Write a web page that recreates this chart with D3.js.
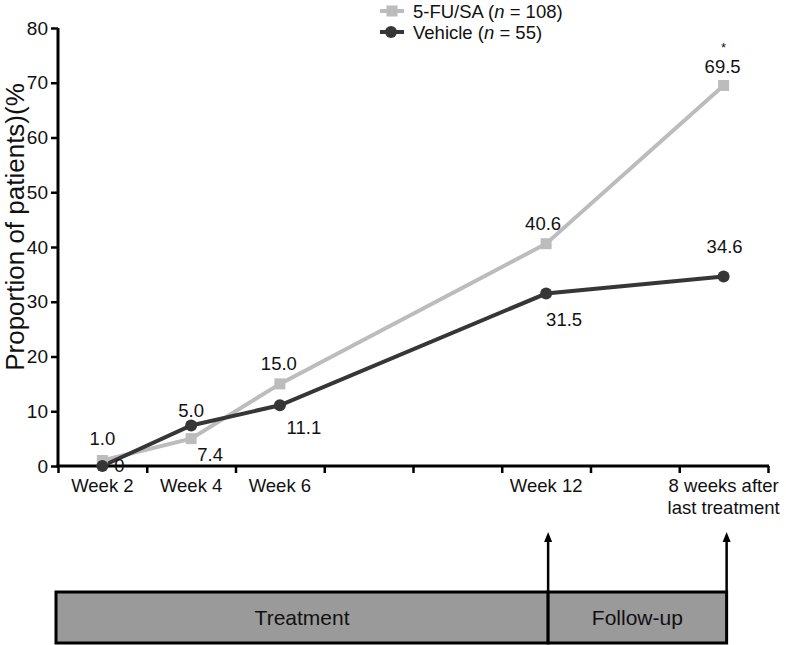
<!DOCTYPE html>
<html>
<head>
<meta charset="utf-8">
<script src="https://cdn.jsdelivr.net/npm/d3@7"></script>
<style>
  html, body { margin: 0; padding: 0; background: #fff; }
  svg { display: block; font-family: "Liberation Sans", Arial, sans-serif; }
</style>
</head>
<body>
<svg id="chart" width="786" height="645"></svg>
<script>
// ---------------- DATA ----------------
const xSlots = ["Week 2", "Week 4", "Week 6", "Week 8", "Week 10", "Week 12", "FU week 4", "FU week 8"];
const xTickLabels = [["Week 2"], ["Week 4"], ["Week 6"], [], [], ["Week 12"], [], ["8 weeks after", "last treatment"]];
const timepoints = ["Week 2", "Week 4", "Week 6", "Week 12", "FU week 8"];
const fuValues = [1.0, 5.0, 15.0, 40.6, 69.5];
const vehicleValues = [0, 7.4, 11.1, 31.5, 34.6];
const fuLabels = ["1.0", "5.0", "15.0", "40.6", "69.5"];
const vehicleLabels = ["0", "7.4", "11.1", "31.5", "34.6"];
const yTicks = [0, 10, 20, 30, 40, 50, 60, 70, 80];
const seriesNames = ["5-FU/SA", "Vehicle"];
const seriesN = [108, 55];
const phases = ["Treatment", "Follow-up"];

// ---------------- LAYOUT ----------------
const svg = d3.select("#chart");
const plot = { left: 58, right: 768, top: 28, bottom: 466 };
const colors = { fu: "#bcbcbc", veh: "#363636" };

const x = d3.scaleBand().domain(xSlots).range([plot.left, plot.right]).paddingInner(0).paddingOuter(0);
const xEdge = d3.scaleLinear().domain([0, xSlots.length]).range([plot.left, plot.right]);
const y = d3.scaleLinear().domain([0, 80]).range([plot.bottom, plot.top]);
const cx = d => x(d) + x.bandwidth() / 2;

// label offsets relative to markers [dx, dy]
const fuOffsets = [[0, -16], [0, -22], [-1, -14], [-3, -14], [-1, -12]];
const vehOffsets = [[17, 6], [19, 36], [24, 29], [18, 32], [1, -24]];

// ---------------- AXES ----------------
const yAxis = d3.axisLeft(y).tickValues(yTicks).tickSize(7).tickPadding(3).tickFormat(d3.format("d"));
const gy = svg.append("g").attr("transform", `translate(${plot.left},0)`).call(yAxis);
gy.select(".domain").attr("stroke", "#000").attr("stroke-width", 3).attr("d", `M0,${plot.top}V${plot.bottom + 1.5}`);
gy.selectAll(".tick line").attr("stroke", "#000").attr("stroke-width", 2.5);
gy.selectAll(".tick text").attr("font-size", 19).attr("fill", "#111").attr("font-family", "Liberation Sans, Arial, sans-serif");

const xAxis = d3.axisBottom(xEdge).tickValues(d3.range(0, xSlots.length + 1)).tickSize(7).tickFormat("");
const gx = svg.append("g").attr("transform", `translate(0,${plot.bottom})`).call(xAxis);
gx.select(".domain").attr("stroke", "#000").attr("stroke-width", 3).attr("d", `M${plot.left - 1.5},0H${plot.right + 1}`);
gx.selectAll(".tick line").attr("stroke", "#000").attr("stroke-width", 2.5);

// x labels
const xl = svg.append("g").attr("font-size", 18.5).attr("fill", "#111").attr("text-anchor", "middle");
xSlots.forEach((s, i) => {
  xTickLabels[i].forEach((t, j) => {
    xl.append("text").attr("x", cx(s)).attr("y", 492 + j * 22).text(t);
  });
});

// y label
svg.append("text")
  .attr("transform", `translate(24,227) rotate(-90)`)
  .attr("text-anchor", "middle").attr("font-size", 26).attr("fill", "#111")
  .text("Proportion of patients)(%");

// ---------------- LINES ----------------
const line = d3.line().x(d => cx(d.t)).y(d => y(d.v));
const fuData = timepoints.map((t, i) => ({ t, v: fuValues[i], label: fuLabels[i], off: fuOffsets[i] }));
const vehData = timepoints.map((t, i) => ({ t, v: vehicleValues[i], label: vehicleLabels[i], off: vehOffsets[i] }));

svg.append("path").datum(fuData).attr("fill", "none").attr("stroke", colors.fu).attr("stroke-width", 4).attr("d", line);
svg.append("path").datum(vehData).attr("fill", "none").attr("stroke", colors.veh).attr("stroke-width", 4).attr("d", line);

const sq = 11;
svg.append("g").selectAll("rect").data(fuData).join("rect")
  .attr("x", d => cx(d.t) - sq / 2).attr("y", d => y(d.v) - sq / 2)
  .attr("width", sq).attr("height", sq).attr("fill", colors.fu);
svg.append("g").selectAll("circle").data(vehData).join("circle")
  .attr("cx", d => cx(d.t)).attr("cy", d => y(d.v)).attr("r", 6).attr("fill", colors.veh);

// value labels
const lab = svg.append("g").attr("font-size", 18.5).attr("fill", "#111").attr("text-anchor", "middle");
fuData.concat(vehData).forEach(d => {
  lab.append("text").attr("x", cx(d.t) + d.off[0]).attr("y", y(d.v) + d.off[1]).text(d.label);
});
// significance asterisk
lab.append("text").attr("x", cx(timepoints[4])).attr("y", y(fuValues[4]) - 33).attr("font-size", 13).text("*");

// ---------------- LEGEND ----------------
const lg = svg.append("g");
const legendRows = [
  { name: seriesNames[0], n: seriesN[0], color: colors.fu, shape: "square", y: 11 },
  { name: seriesNames[1], n: seriesN[1], color: colors.veh, shape: "circle", y: 32 }
];
legendRows.forEach(r => {
  lg.append("line").attr("x1", 380).attr("x2", 404).attr("y1", r.y).attr("y2", r.y)
    .attr("stroke", r.color).attr("stroke-width", 4);
  if (r.shape === "square") {
    lg.append("rect").attr("x", 392 - sq / 2).attr("y", r.y - sq / 2).attr("width", sq).attr("height", sq).attr("fill", r.color);
  } else {
    lg.append("circle").attr("cx", 391).attr("cy", r.y).attr("r", 6).attr("fill", r.color);
  }
  const t = lg.append("text").attr("x", 413).attr("y", r.y + 6.5).attr("font-size", 18.5).attr("fill", "#111");
  t.append("tspan").text(r.name + " (");
  t.append("tspan").attr("font-style", "italic").text("n");
  t.append("tspan").text(" = " + r.n + ")");
});

// ---------------- TIMELINE ----------------
const tl = svg.append("g");
const boxTop = 592, boxBottom = 643;
// phase boxes aligned to the Week 12 and follow-up time points
const phaseX = [56, cx(timepoints[3]) + 2, cx(timepoints[4]) + 3];
phases.forEach((p, i) => {
  tl.append("rect").attr("x", phaseX[i]).attr("y", boxTop).attr("width", phaseX[i + 1] - phaseX[i]).attr("height", boxBottom - boxTop)
    .attr("fill", "#9a9a9a").attr("stroke", "#000").attr("stroke-width", 3);
  tl.append("text").attr("x", (phaseX[i] + phaseX[i + 1]) / 2).attr("y", 625)
    .attr("text-anchor", "middle").attr("font-size", 21).attr("fill", "#111").text(p);
});
// arrows
[phaseX[1], phaseX[2]].forEach(ax => {
  tl.append("line").attr("x1", ax).attr("x2", ax).attr("y1", boxTop).attr("y2", 540)
    .attr("stroke", "#000").attr("stroke-width", 2.5);
  tl.append("path").attr("d", `M${ax},532L${ax - 4},542L${ax + 4},542Z`).attr("fill", "#000");
});
</script>
</body>
</html>
